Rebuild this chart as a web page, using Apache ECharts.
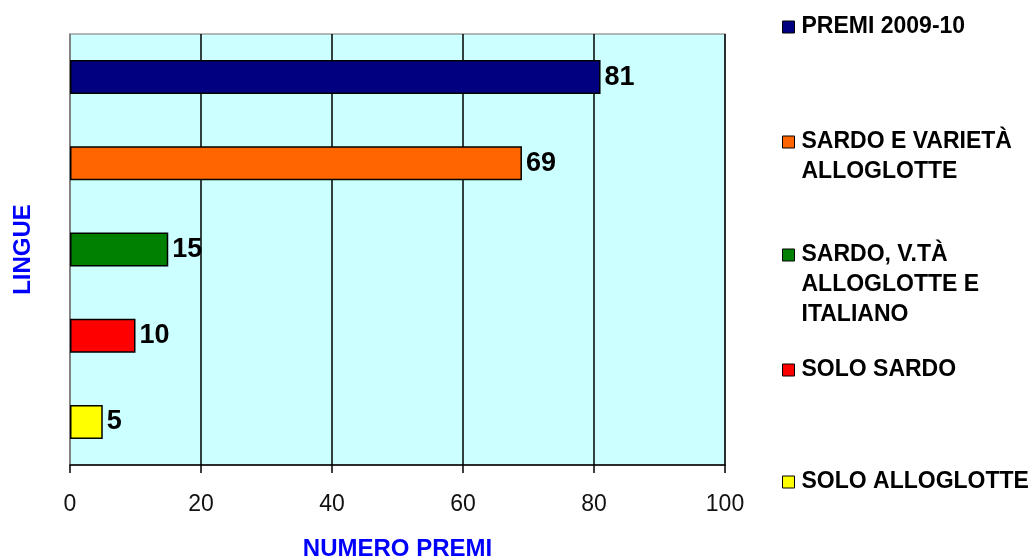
<!DOCTYPE html>
<html>
<head>
<meta charset="utf-8">
<script src="https://cdn.jsdelivr.net/npm/echarts@6/dist/echarts.min.js"></script>
<style>html,body{margin:0;padding:0;background:#fff;}#c{width:1035px;height:557px;}</style>
</head>
<body>
<div id="c"></div>
<script>
const categories = ['PREMI 2009-10', 'SARDO E VARIETÀ ALLOGLOTTE', 'SARDO, V.TÀ ALLOGLOTTE E ITALIANO', 'SOLO SARDO', 'SOLO ALLOGLOTTE'];
const legendLines = [['PREMI 2009-10'], ['SARDO E VARIETÀ', 'ALLOGLOTTE'], ['SARDO, V.TÀ', 'ALLOGLOTTE E', 'ITALIANO'], ['SOLO SARDO'], ['SOLO ALLOGLOTTE']];
const values = [81, 69, 15, 10, 5];
const colors = ['#000080', '#ff6600', '#008000', '#ff0000', '#ffff00'];
const xTicks = [0, 20, 40, 60, 80, 100];

const legendIconCenters = [27, 142, 255, 370, 482];
const LH = 30;
const FONT = 'Liberation Sans, Arial, sans-serif';

const series = categories.map((name, i) => ({
  name: name,
  type: 'bar',
  barWidth: 34,
  barGap: '-100%',
  data: categories.map((c, j) => j === i ? values[i] : '-'),
  itemStyle: { color: colors[i], borderColor: '#000', borderWidth: 1.5 },
  label: {
    show: true, position: 'right', distance: 4,
    color: '#000', fontWeight: 'bold', fontSize: 27, fontFamily: FONT
  },
  z: 3
}));

const legends = categories.map((name, i) => {
  const lines = legendLines[i];
  const pad = Array(lines.length - 1).fill('');
  const txt = pad.concat(lines).join('\n');
  const n = pad.length + lines.length;
  return {
    data: [name],
    left: 782,
    top: legendIconCenters[i] - n * LH / 2,
    padding: 0,
    itemWidth: 12, itemHeight: 12, itemGap: 0,
    icon: 'rect',
    selectedMode: false,
    itemStyle: { borderColor: '#000', borderWidth: 1 },
    formatter: () => txt,
    textStyle: { color: '#000', fontWeight: 'bold', fontSize: 23, fontFamily: FONT, lineHeight: LH, padding: [0, 0, 0, 2] }
  };
});

const chart = echarts.init(document.getElementById('c'), null, { renderer: 'canvas' });
chart.setOption({
  animation: false,
  backgroundColor: '#fff',
  grid: {
    left: 70, right: 310, top: 34, bottom: 92,
    outerBoundsMode: 'none', containLabel: false,
    show: true, backgroundColor: '#ccffff', borderColor: '#a0a0a0', borderWidth: 1.5
  },
  legend: legends,
  xAxis: {
    type: 'value', min: 0, max: 100, interval: 20,
    name: 'NUMERO PREMI', nameLocation: 'middle', nameGap: 72,
    nameTextStyle: { color: '#0000ff', fontWeight: 'bold', fontSize: 24, fontFamily: FONT },
    axisLine: { show: true, lineStyle: { color: '#000', width: 1.5 } },
    axisTick: { show: true, length: 8, lineStyle: { color: '#000', width: 1.5 } },
    axisLabel: {
      margin: 28, color: '#111', fontSize: 23, fontFamily: FONT,
      formatter: v => xTicks.includes(v) ? String(v) : ''
    },
    splitLine: { show: true, lineStyle: { color: '#000', width: 1.5 } }
  },
  yAxis: {
    type: 'category', data: categories, inverse: true,
    name: 'LINGUE', nameLocation: 'middle', nameGap: 35, nameRotate: 90,
    nameTextStyle: { color: '#0000ff', fontWeight: 'bold', fontSize: 24, fontFamily: FONT },
    axisLine: { show: true, lineStyle: { color: '#a0a0a0', width: 1.5 } },
    axisTick: { show: false },
    axisLabel: { show: false },
    splitLine: { show: false }
  },
  series: series
});
</script>
</body>
</html>
